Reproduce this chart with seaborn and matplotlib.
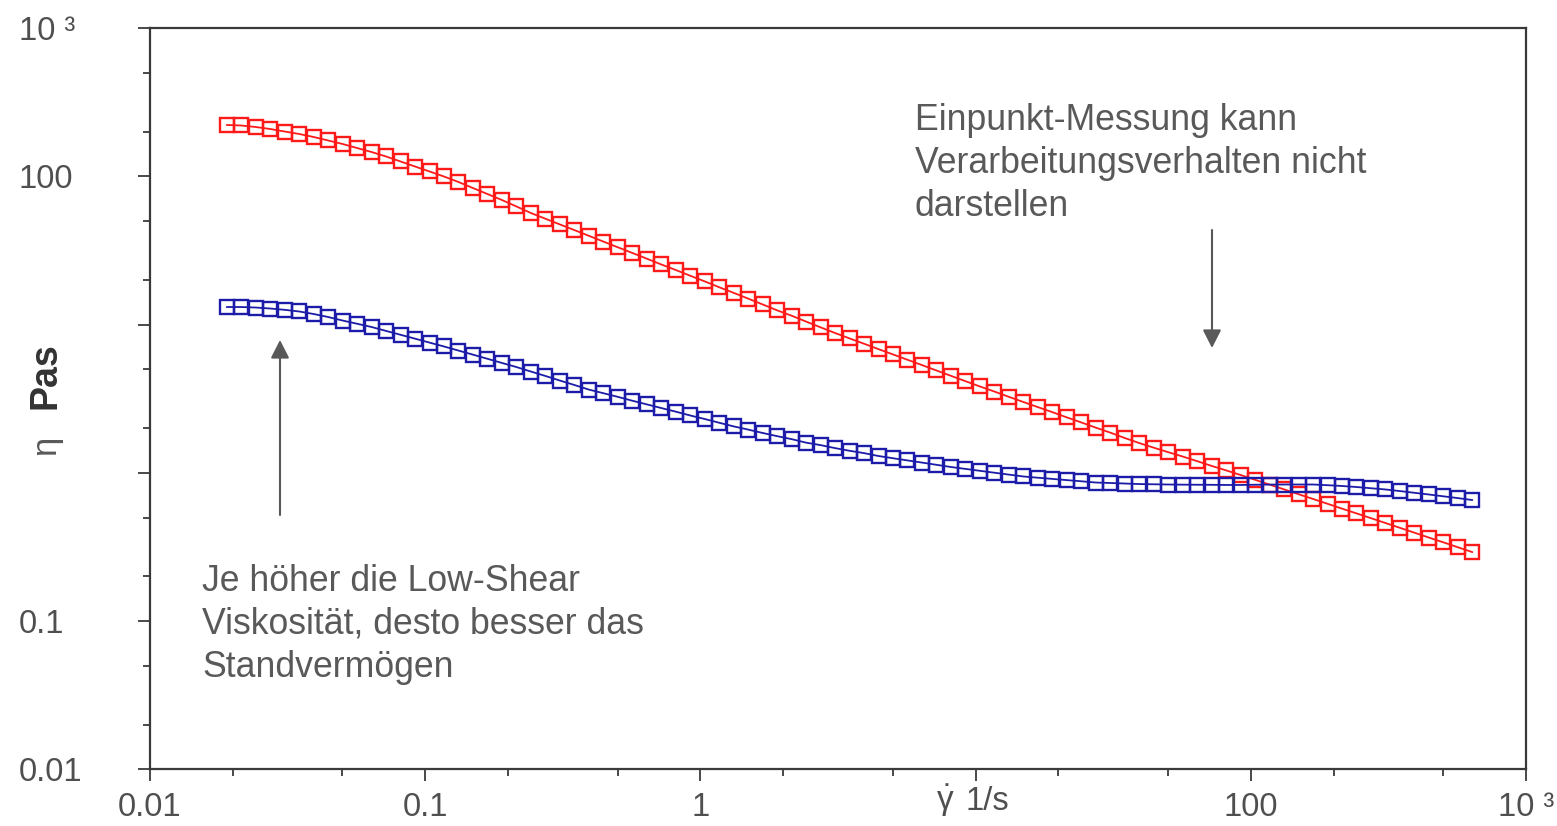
import matplotlib
matplotlib.use("Agg")
import pandas as pd
import seaborn as sns
from matplotlib import pyplot as plt
from matplotlib.ticker import LogLocator, NullFormatter

# shear rate 1/s (log sweep, both samples measured on the same grid)
shear_rate = [
    0.0190, 0.02145, 0.02421, 0.02733, 0.03085, 0.03483, 0.03931, 0.04438, 0.05010, 0.05655,
    0.06384, 0.07206, 0.08134, 0.09183, 0.1037, 0.1170, 0.1321, 0.1491, 0.1683,
    0.190, 0.2145, 0.2421, 0.2733, 0.3085, 0.3483, 0.3931, 0.4438, 0.5010, 0.5655,
    0.6384, 0.7206, 0.8134, 0.9183, 1.037, 1.170, 1.321, 1.491, 1.683,
    1.90, 2.145, 2.421, 2.733, 3.085, 3.483, 3.931, 4.438, 5.010, 5.655,
    6.384, 7.206, 8.134, 9.183, 10.37, 11.70, 13.21, 14.91, 16.83,
    19.0, 21.45, 24.21, 27.33, 30.85, 34.83, 39.31, 44.38, 50.10, 56.55,
    63.84, 72.06, 81.34, 91.83, 103.7, 117.0, 132.1, 149.1, 168.3,
    190.0, 214.5, 242.1, 273.3, 308.5, 348.3, 393.1, 443.8, 501.0, 565.5, 638.4,
]

# viscosity eta in Pas
eta_red = [
    222.6, 220.9, 215.8, 209.2, 201.2, 193.6, 184.8, 175.0, 165.7, 155.7,
    146.3, 136.5, 126.3, 116.8, 108.1, 100.0, 91.8, 83.6, 76.2, 69.4,
    62.8, 56.7, 51.9, 47.5, 43.5, 39.8, 36.4, 33.3, 30.5, 27.9,
    25.5, 23.4, 21.4, 19.6, 17.9, 16.4, 15.0, 13.7, 12.5, 11.5,
    10.5, 9.60, 8.79, 8.08, 7.44, 6.84, 6.30, 5.80, 5.34, 4.91,
    4.52, 4.16, 3.83, 3.54, 3.26, 3.01, 2.78, 2.57, 2.37, 2.19,
    2.02, 1.87, 1.72, 1.59, 1.48, 1.38, 1.29, 1.20, 1.115, 1.04,
    0.968, 0.898, 0.834, 0.774, 0.718, 0.667, 0.619, 0.574, 0.533, 0.495,
    0.459, 0.426, 0.395, 0.366, 0.340, 0.315, 0.292,
]
eta_blue = [
    13.16, 13.16, 13.06, 12.86, 12.60, 12.28, 11.81, 11.27, 10.67, 10.15,
    9.65, 9.08, 8.55, 8.05, 7.57, 7.13, 6.69, 6.28, 5.89, 5.52,
    5.18, 4.83, 4.51, 4.20, 3.92, 3.65, 3.45, 3.26, 3.07, 2.90,
    2.74, 2.59, 2.44, 2.31, 2.18, 2.06, 1.96, 1.86, 1.77, 1.69,
    1.60, 1.54, 1.47, 1.41, 1.36, 1.30, 1.256, 1.214, 1.174, 1.134,
    1.096, 1.064, 1.033, 1.003, 0.974, 0.946, 0.928, 0.911, 0.894, 0.878,
    0.861, 0.855, 0.848, 0.841, 0.838, 0.835, 0.833, 0.832, 0.831, 0.829,
    0.829, 0.832, 0.834, 0.835, 0.835, 0.835, 0.826, 0.816, 0.803, 0.788,
    0.773, 0.754, 0.734, 0.715, 0.695, 0.676, 0.656,
]

x_ticks = [0.01, 0.1, 1, 10, 100, 1000]
x_labels = ["0.01", "0.1", "1", "", "100", "10 ³"]
y_ticks = [0.01, 0.1, 1, 10, 100, 1000]
y_labels = ["0.01", "0.1", "", "", "100", "10 ³"]

note_right = ["Einpunkt-Messung kann", "Verarbeitungsverhalten nicht", "darstellen"]
note_left = ["Je höher die Low-Shear", "Viskosität, desto besser das", "Standvermögen"]

RED = "#ff1a1a"
BLUE = "#1c1ca8"
GREY = "#595959"
DARK = "#3a3a3a"

sns.set_style("ticks")
plt.rcParams["font.family"] = ["Liberation Sans", "DejaVu Sans"]
plt.rcParams["mathtext.fontset"] = "custom"
plt.rcParams["mathtext.rm"] = "Liberation Sans"
plt.rcParams["mathtext.it"] = "Liberation Sans"

W, H = 1557, 826


def fx(px):
    return px / W


def fy(py):
    return 1 - py / H


fig = plt.figure(figsize=(W / 100, H / 100), dpi=100)
ax = fig.add_axes([fx(150), fy(769.3), (1526 - 150) / W, (769.3 - 28.3) / H])
ax.set(xscale="log", yscale="log")

df = pd.DataFrame({
    "rate": shear_rate * 2,
    "eta": eta_red + eta_blue,
    "probe": ["rot"] * len(eta_red) + ["blau"] * len(eta_blue),
})

for probe, color in [("rot", RED), ("blau", BLUE)]:
    sns.lineplot(data=df[df.probe == probe], x="rate", y="eta", color=color,
                 lw=1.3, marker="s", ms=9.5, mfc="none", mec=color, mew=1.7,
                 errorbar=None, legend=False, ax=ax)

ax.set(xlim=(0.01, 1000), ylim=(0.01, 1000), xlabel="", ylabel="")
ax.set_xticks(x_ticks, x_labels)
ax.set_yticks(y_ticks, y_labels)
for axis in (ax.xaxis, ax.yaxis):
    axis.set_minor_locator(LogLocator(base=10, subs=(2, 5)))
    axis.set_minor_formatter(NullFormatter())

ax.tick_params(which="major", length=8.5, width=1.3, color=DARK,
               labelsize=23.5, labelcolor="#4f4f4f")
ax.tick_params(which="minor", length=5, width=1.3, color=DARK)
ax.tick_params(axis="x", pad=8)
ax.tick_params(axis="y", pad=86)
for lab in ax.get_yticklabels():
    lab.set_horizontalalignment("left")

for side in ["left", "bottom", "top", "right"]:
    ax.spines[side].set_visible(True)
    ax.spines[side].set_color(DARK)
    ax.spines[side].set_linewidth(1.6)

# axis titles
fig.text(fx(55), fy(376), "Pas", rotation=90, rotation_mode="anchor",
         ha="center", va="baseline", fontsize=27, fontweight="bold", color="#333333")
fig.text(fx(55), fy(445), "η", rotation=90, rotation_mode="anchor",
         ha="center", va="baseline", fontsize=25, color=GREY)
fig.text(fx(936), fy(810), r"$\mathrm{\dot{\gamma}}$", ha="left", va="baseline",
         fontsize=24, color="#4f4f4f")
fig.text(fx(965), fy(810), "1/s", ha="left", va="baseline", fontsize=23.5, color="#4f4f4f")

# annotations
for i, line in enumerate(note_right):
    fig.text(fx(915), fy(130 + 43 * i), line, ha="left", va="baseline",
             fontsize=25.7, color=GREY)
for i, line in enumerate(note_left):
    fig.text(fx(202), fy(591 + 43 * i), line, ha="left", va="baseline",
             fontsize=25.7, color=GREY)

arrow = dict(arrowstyle="-|>,head_length=0.55,head_width=0.28", color=GREY,
             lw=1.5, mutation_scale=20, shrinkA=0, shrinkB=0)
ax.annotate("", xy=(fx(1212), fy(348)), xytext=(fx(1212), fy(230)),
            xycoords="figure fraction", textcoords="figure fraction", arrowprops=arrow)
ax.annotate("", xy=(fx(280), fy(340)), xytext=(fx(280), fy(515)),
            xycoords="figure fraction", textcoords="figure fraction", arrowprops=arrow)

fig.savefig("out.png", dpi=100)
